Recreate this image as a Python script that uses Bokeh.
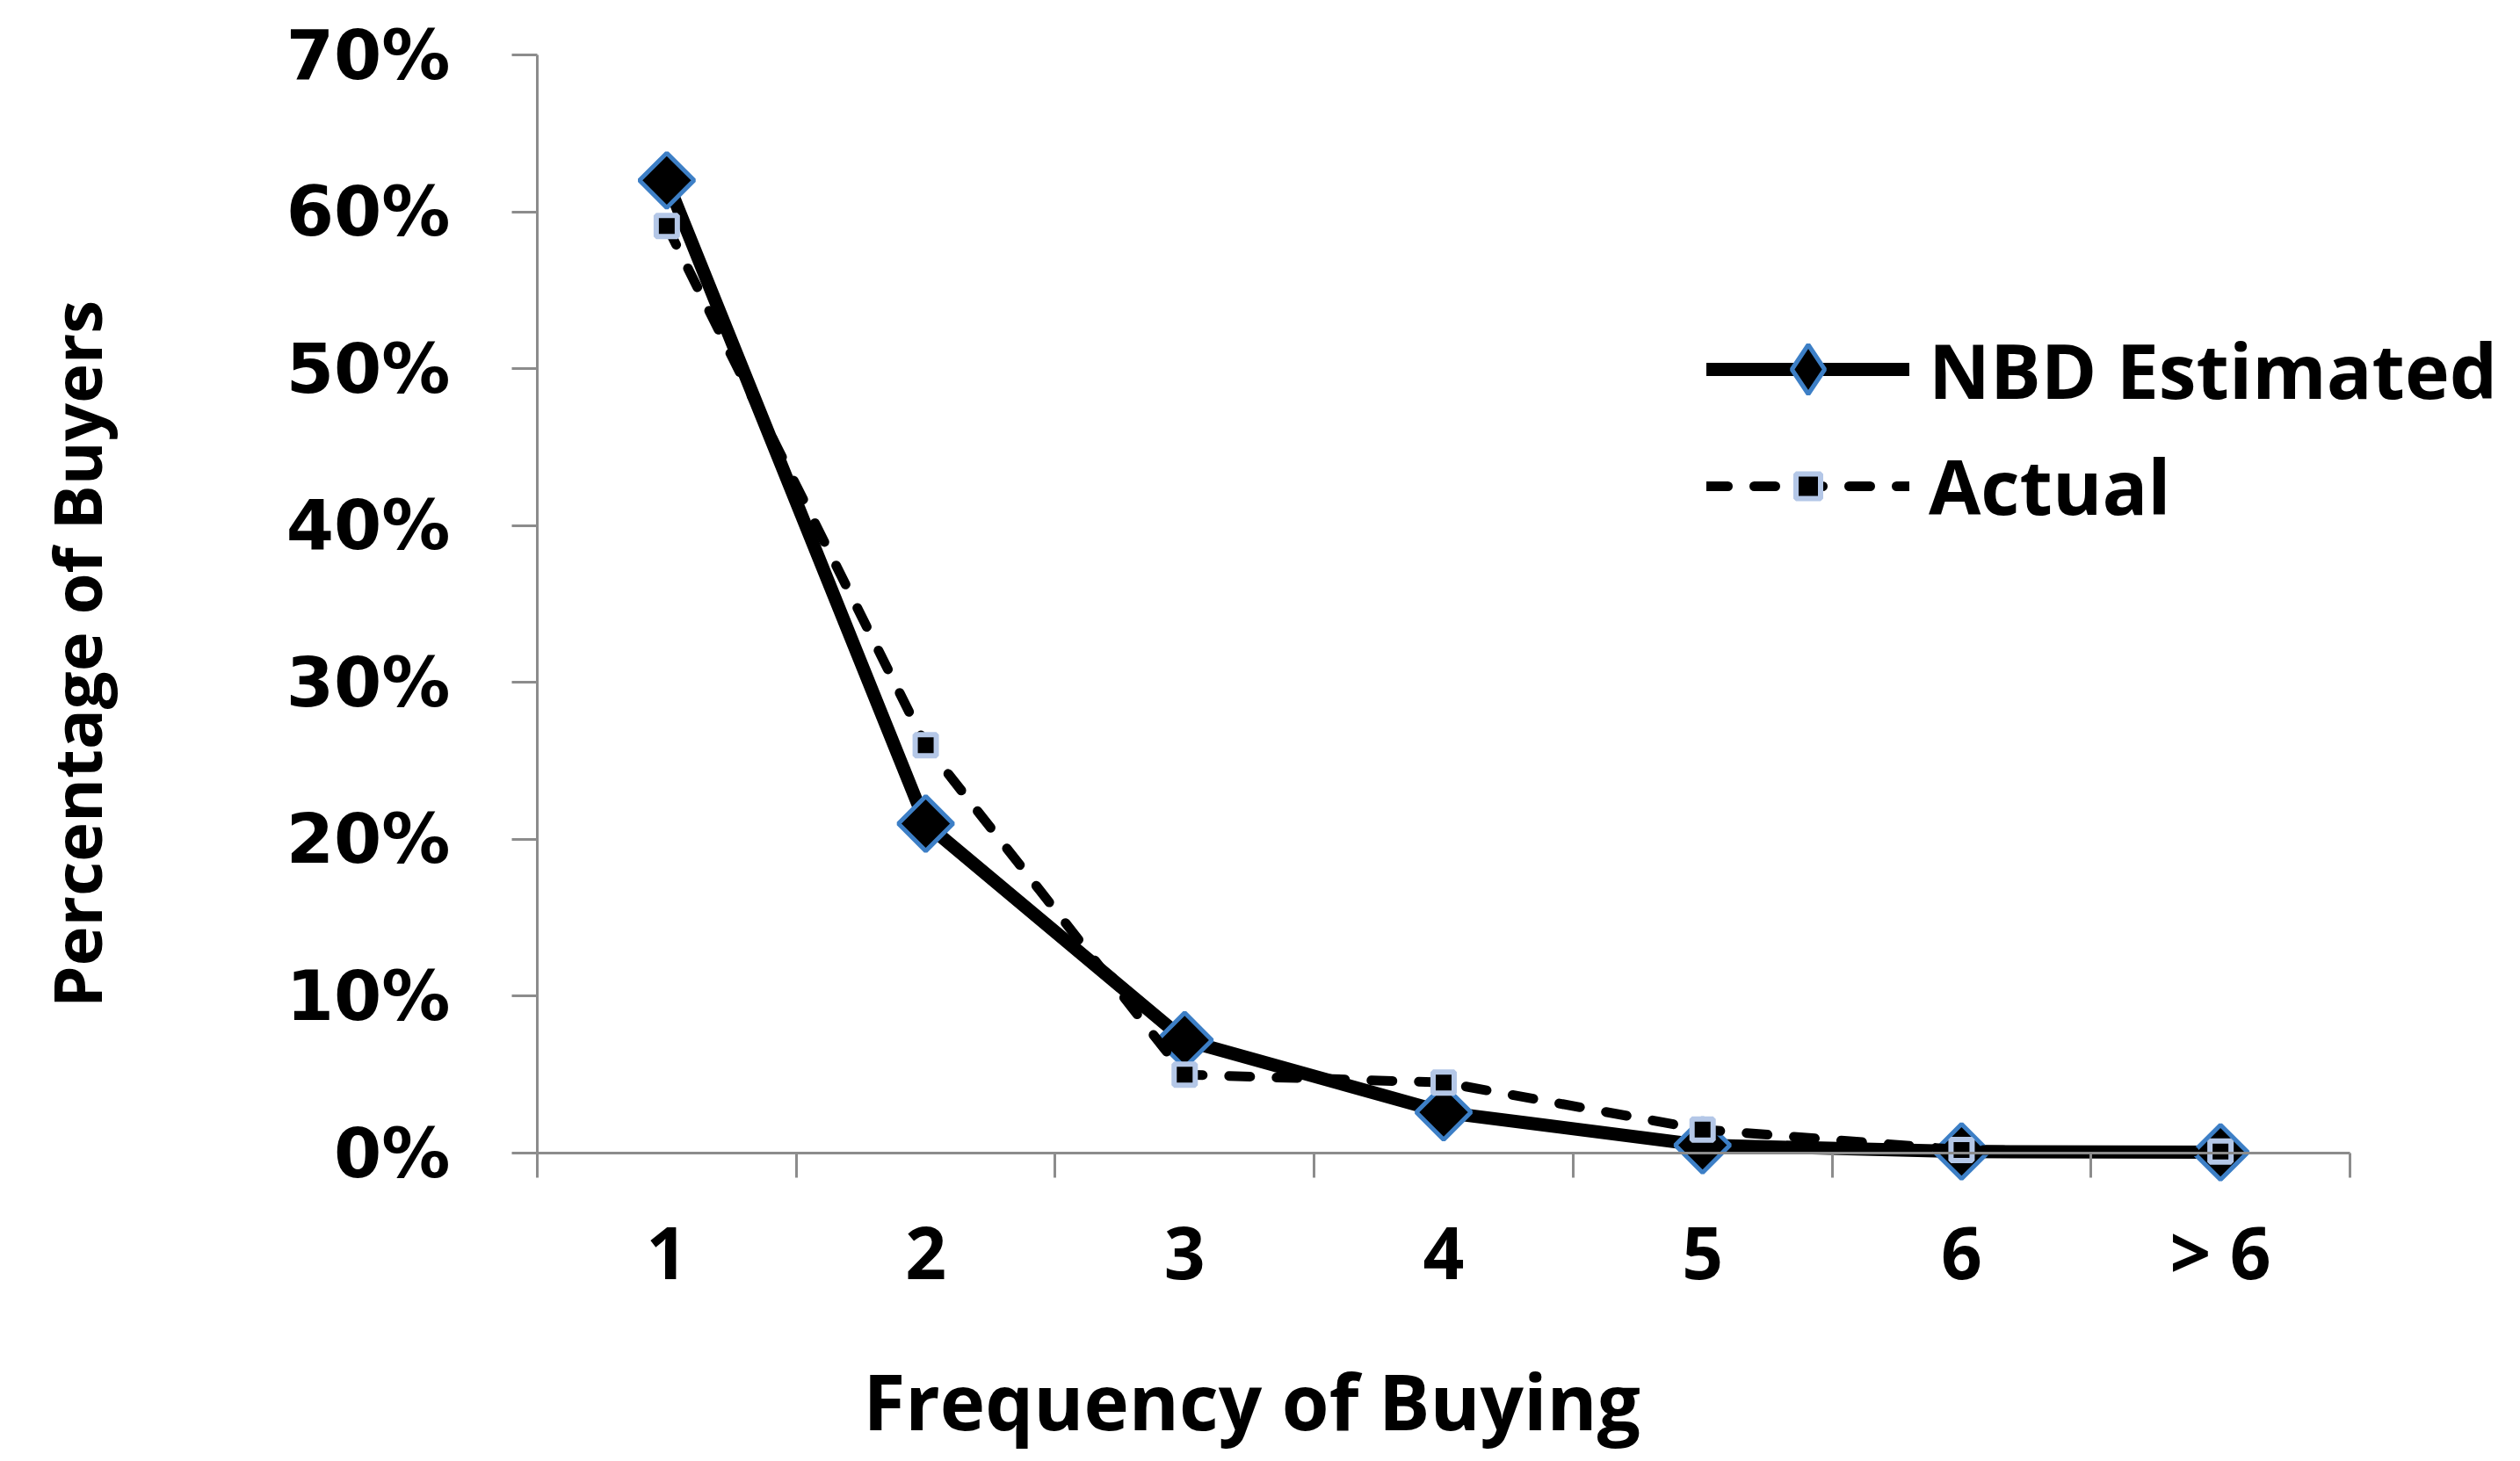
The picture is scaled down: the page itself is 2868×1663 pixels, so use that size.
import math
from bokeh.plotting import figure
from bokeh.models import FixedTicker, PrintfTickFormatter, Range1d, Legend, LegendItem, Label
from bokeh.embed import file_html
from bokeh.resources import INLINE

# ---- data ----
categories = ["1", "2", "3", "4", "5", "6", "> 6"]
nbd_estimated = [62.0, 21.0, 7.2, 2.6, 0.5, 0.1, 0.05]
actual = [59.1, 26.0, 5.0, 4.5, 1.5, 0.2, 0.1]
y_ticks = [0, 10, 20, 30, 40, 50, 60, 70]

x = list(range(1, len(categories) + 1))
n = len(categories)

# ---- layout (pixels) ----
W, H = 2852, 1655
AX_LEFT, AX_RIGHT = 611, 2674      # pixel positions of x = 0.5 and x = n + 0.5
AX_TOP, AX_BOTTOM = 62, 1312       # pixel positions of y = 70 and y = 0
y_max = y_ticks[-1]
px_x = (AX_RIGHT - AX_LEFT) / n
px_y = (AX_BOTTOM - AX_TOP) / y_max
x_start = 0.5 - AX_LEFT / px_x
x_end = 0.5 + (W - AX_LEFT) / px_x
y_end = y_max + AX_TOP / px_y
y_start = -(H - AX_BOTTOM) / px_y

p = figure(width=W, height=H, output_backend="svg", toolbar_location=None,
           x_range=Range1d(x_start, x_end), y_range=Range1d(y_start, y_end),
           min_border_left=0, min_border_right=0, min_border_top=0, min_border_bottom=0)
p.outline_line_color = None
p.grid.visible = False
p.background_fill_color = "white"
p.border_fill_color = "white"

axis_grey = "#8c8c8c"
eps = 1e-6

# x axis: labels at category centres, tick marks at category boundaries
xa = p.xaxis[0]
xa.fixed_location = 0
xa.bounds = (0.5 - eps, n + 0.5 + eps)
xa.ticker = FixedTicker(ticks=x, minor_ticks=[i + 0.5 for i in range(0, n + 1)])
xa.major_label_overrides = {i: c for i, c in zip(x, categories)}
xa.major_tick_out = 0
xa.major_tick_in = 0
xa.minor_tick_out = 28
xa.minor_tick_in = 0
xa.minor_tick_line_color = axis_grey
xa.minor_tick_line_width = 3
xa.axis_line_color = axis_grey
xa.axis_line_width = 3
xa.major_label_text_font = "Open Sans"
xa.major_label_text_font_style = "bold"
xa.major_label_text_font_size = "82px"
xa.major_label_text_color = "black"
xa.major_label_standoff = 27

ya = p.yaxis[0]
ya.fixed_location = 0.5
ya.bounds = (0, y_max)
ya.ticker = FixedTicker(ticks=y_ticks, minor_ticks=[])
ya.formatter = PrintfTickFormatter(format="%d%%")
ya.major_tick_out = 29
ya.major_tick_in = 0
ya.major_tick_line_color = axis_grey
ya.major_tick_line_width = 3
ya.minor_tick_line_color = None
ya.axis_line_color = axis_grey
ya.axis_line_width = 3
ya.major_label_text_font = "DejaVu Sans"
ya.major_label_text_font_style = "bold"
ya.major_label_text_font_size = "78px"
ya.major_label_text_color = "black"
ya.major_label_standoff = 70

# ---- series ----
diamond_blue = "#3d7fc6"
square_blue = "#b4c7e7"
r1 = p.line(x, nbd_estimated, line_color="black", line_width=15, line_join="round", line_cap="round")
r2 = p.scatter(x, nbd_estimated, marker="square", angle=math.pi / 4, size=44,
               fill_color="black", line_color=diamond_blue, line_width=5)
r3 = p.line(x, actual, line_color="black", line_width=11, line_dash="24 30", line_cap="round",
            line_join="round")
r4 = p.scatter(x, actual, marker="square", size=24, fill_color="black",
               line_color=square_blue, line_width=6)
# legend-only marker (diamond shape for the legend swatch)
r2_leg = p.scatter(x, nbd_estimated, marker="diamond", size=44, fill_color="black",
                   line_color=diamond_blue, line_width=5, visible=False)

common = dict(glyph_width=231, padding=0, margin=0, border_line_color=None,
              background_fill_alpha=0, label_text_font="Open Sans",
              label_text_font_style="bold", label_text_font_size="86px",
              label_text_color="black", label_standoff=22)
leg1 = Legend(items=[LegendItem(label="NBD Estimated", renderers=[r1, r2_leg])],
              location=(1942, 1165), glyph_height=140, label_height=100, **common)
leg2 = Legend(items=[LegendItem(label="Actual", renderers=[r3, r4])],
              location=(1942, 1044), glyph_height=70, label_height=100, **common)
p.add_layout(leg1)
p.add_layout(leg2)

xt = Label(x=982, y=62, x_units="screen", y_units="screen", text="Frequency of Buying",
           text_align="left", text_baseline="alphabetic", text_font="Open Sans",
           text_font_style="bold", text_font_size="87px", text_color="black")
yt = Label(x=86, y=911, x_units="screen", y_units="screen", text="Percentage of Buyers",
           angle=math.pi / 2, text_align="center", text_baseline="middle",
           text_font="Open Sans", text_font_style="bold", text_font_size="76px",
           text_color="black")
p.add_layout(xt)
p.add_layout(yt)

open("out.html", "w").write(file_html(p, INLINE))
